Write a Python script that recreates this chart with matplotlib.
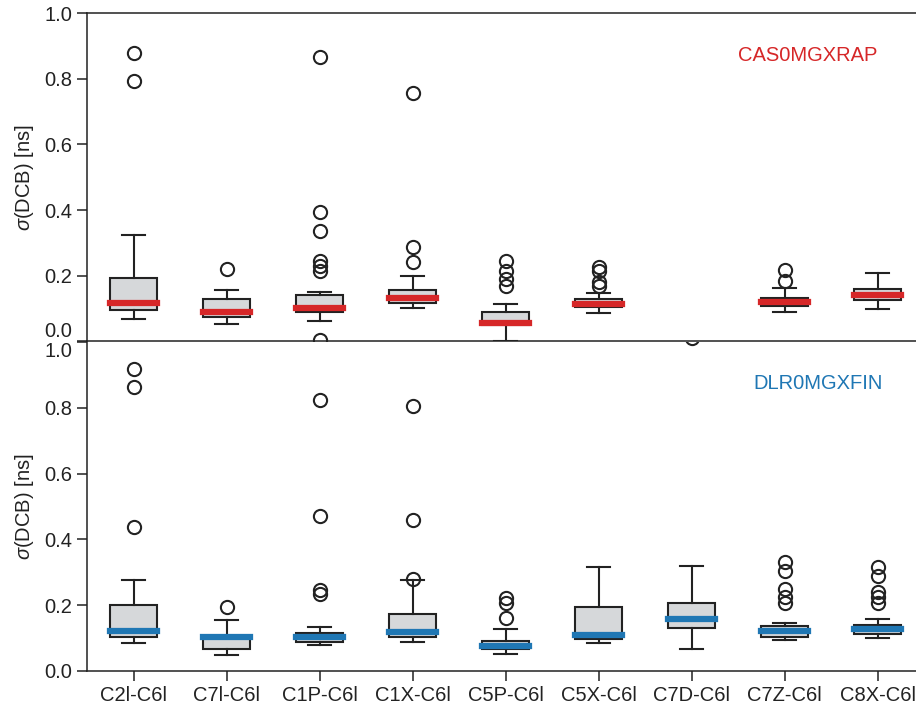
import matplotlib
matplotlib.use('Agg')
import matplotlib.pyplot as plt

plt.rcParams['font.family'] = ['Liberation Sans', 'DejaVu Sans']
plt.rcParams['font.size'] = 14.5
plt.rcParams['mathtext.fontset'] = 'custom'
plt.rcParams['mathtext.it'] = 'Liberation Sans:italic'
plt.rcParams['mathtext.rm'] = 'Liberation Sans'

categories = ['C2I-C6I', 'C7I-C6I', 'C1P-C6I', 'C1X-C6I', 'C5P-C6I',
              'C5X-C6I', 'C7D-C6I', 'C7Z-C6I', 'C8X-C6I']
tick_labels = ['C2l-C6l', 'C7l-C6l', 'C1P-C6l', 'C1X-C6l', 'C5P-C6l',
               'C5X-C6l', 'C7D-C6l', 'C7Z-C6l', 'C8X-C6l']

# CAS0MGXRAP (no C7D box)
cas_cats = ['C2I-C6I', 'C7I-C6I', 'C1P-C6I', 'C1X-C6I', 'C5P-C6I',
            'C5X-C6I', 'C7Z-C6I', 'C8X-C6I']
cas_whislo = [0.069, 0.054, 0.062, 0.103, 0.0, 0.086, 0.090, 0.100]
cas_q1 = [0.095, 0.074, 0.089, 0.118, 0.049, 0.105, 0.108, 0.125]
cas_med = [0.118, 0.089, 0.102, 0.132, 0.057, 0.115, 0.119, 0.141]
cas_q3 = [0.194, 0.130, 0.140, 0.156, 0.090, 0.128, 0.133, 0.159]
cas_whishi = [0.323, 0.156, 0.150, 0.200, 0.115, 0.148, 0.162, 0.208]
cas_fliers = [[0.877, 0.794],
              [0.222],
              [0.866, 0.393, 0.335, 0.244, 0.230, 0.216, 0.003],
              [0.758, 0.288, 0.243],
              [0.244, 0.216, 0.191, 0.169],
              [0.227, 0.216, 0.181, 0.169],
              [0.219, 0.184],
              []]

# DLR0MGXFIN
dlr_whislo = [0.084, 0.049, 0.079, 0.087, 0.052, 0.086, 0.066, 0.094, 0.099]
dlr_q1 = [0.103, 0.068, 0.089, 0.102, 0.066, 0.097, 0.132, 0.104, 0.112]
dlr_med = [0.120, 0.104, 0.102, 0.117, 0.076, 0.109, 0.157, 0.122, 0.128]
dlr_q3 = [0.200, 0.106, 0.115, 0.172, 0.091, 0.194, 0.208, 0.136, 0.140]
dlr_whishi = [0.278, 0.155, 0.135, 0.277, 0.127, 0.315, 0.319, 0.146, 0.159]
dlr_fliers = [[0.917, 0.864, 0.439],
              [0.195],
              [0.824, 0.472, 0.246, 0.233],
              [0.805, 0.459, 0.279],
              [0.223, 0.208, 0.160],
              [],
              [1.012],
              [0.332, 0.305, 0.248, 0.226, 0.208],
              [0.315, 0.290, 0.241, 0.226, 0.208]]

RED = '#d62728'
BLUE = '#1f77b4'
EDGE = '#222222'
FILL = '#d6d8da'


def make_stats(whislo, q1, med, q3, whishi, fliers):
    stats = []
    for i in range(len(med)):
        stats.append({'whislo': whislo[i], 'q1': q1[i], 'med': med[i],
                      'q3': q3[i], 'whishi': whishi[i],
                      'fliers': fliers[i]})
    return stats


def draw(ax, stats, positions, color):
    ax.bxp(stats, positions=positions, widths=0.5, patch_artist=True,
           boxprops=dict(facecolor=FILL, edgecolor=EDGE, linewidth=1.5),
           medianprops=dict(color=color, linewidth=4.5, solid_capstyle='projecting'),
           whiskerprops=dict(color=EDGE, linewidth=1.5),
           capprops=dict(color=EDGE, linewidth=1.5),
           flierprops=dict(marker='o', markersize=9.5, markerfacecolor='none',
                           markeredgecolor=EDGE, markeredgewidth=1.5))


def style(ax):
    for s in ['left', 'top', 'bottom']:
        ax.spines[s].set_color(EDGE)
        ax.spines[s].set_linewidth(1.1)
    ax.spines['right'].set_visible(False)
    ax.set_ylim(0, 1.0)
    ax.set_xlim(0.5, len(categories) + 0.5)
    ax.set_yticks([0, 0.2, 0.4, 0.6, 0.8, 1.0])
    ax.set_yticklabels(['0.0', '0.2', '0.4', '0.6', '0.8', '1.0'])
    ax.tick_params(axis='both', direction='out', length=7, width=1.1,
                   color=EDGE, labelcolor='#222222')
    ax.set_ylabel(r'$\sigma$(DCB) [ns]', color='#222222', labelpad=6)


def main():
    fig = plt.figure(figsize=(9.16, 7.08), dpi=100)
    ax1 = fig.add_axes([0.095, 0.5177, 0.914, 0.4639])
    ax2 = fig.add_axes([0.095, 0.0523, 0.914, 0.4647])

    pos_all = list(range(1, len(categories) + 1))
    cas_pos = [categories.index(c) + 1 for c in cas_cats]

    draw(ax1, make_stats(cas_whislo, cas_q1, cas_med, cas_q3, cas_whishi, cas_fliers),
         cas_pos, RED)
    draw(ax2, make_stats(dlr_whislo, dlr_q1, dlr_med, dlr_q3, dlr_whishi, dlr_fliers),
         pos_all, BLUE)

    style(ax1)
    style(ax2)
    # single shared line between the panels
    ax2.spines['top'].set_visible(False)
    ax1.set_xticks([])
    ax2.set_xticks(pos_all)
    ax2.set_xticklabels(tick_labels)

    # keep the shared 0.0 / 1.0 labels apart
    ax1.get_yticklabels()[0].set_va('bottom')
    ax2.get_yticklabels()[-1].set_va('top')

    ax1.text(9.0, 0.872, 'CAS0MGXRAP', color=RED, ha='right', va='center',
             fontsize=14.5)
    ax2.text(9.05, 0.875, 'DLR0MGXFIN', color=BLUE, ha='right', va='center',
             fontsize=14.5)

    fig.savefig('out.png', dpi=100)
    plt.close(fig)


if __name__ == '__main__':
    main()
